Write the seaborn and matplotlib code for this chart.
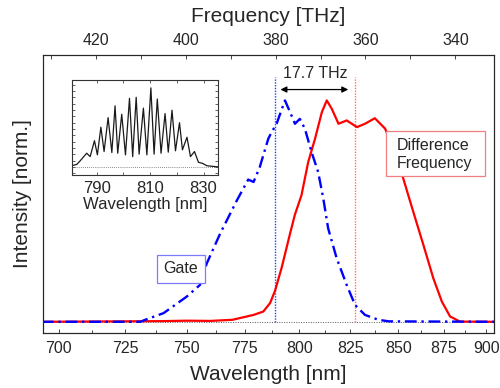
import numpy as np
import pandas as pd
import seaborn as sns
from matplotlib import pyplot as plt
from matplotlib.patches import Rectangle
from matplotlib.ticker import FixedLocator, MultipleLocator, NullFormatter

C = 299792.458  # nm*THz

# main spectra (wavelength in nm, normalised intensity)
gate_wl = [694, 731, 733.0, 740.4, 749.9, 755.5, 758.4, 764.2, 771.5, 776.5, 778.9, 781.7,
           783.3, 785.6, 787.1, 789.4, 793.3, 795.7, 798.0, 800.3, 802.7, 805.9, 809.1,
           811.6, 814.0, 818.2, 823.2, 827.4, 832.5, 839.5, 845, 905]
gate_int = [0, 0, 0.009, 0.039, 0.113, 0.166, 0.263, 0.398, 0.547, 0.640, 0.629, 0.696,
            0.749, 0.824, 0.853, 0.891, 0.996, 0.943, 0.891, 0.913, 0.869, 0.764, 0.674,
            0.555, 0.420, 0.286, 0.166, 0.076, 0.031, 0.009, 0.002, 0]

dfg_wl = [694, 740, 750, 760, 769.5, 778.9, 783.3, 786.4, 788.7, 791.8, 795.5, 797.9,
          801.1, 804.3, 807.6, 810.9, 813.3, 815.8, 819.1, 823.2, 828.4, 832.5, 837.6,
          843.0, 847.4, 852.7, 858.1, 863.7, 869.2, 874.0, 878.7, 884.4, 905]
dfg_int = [0, 0.003, 0.005, 0.004, 0.009, 0.031, 0.046, 0.084, 0.140, 0.245, 0.390, 0.480,
           0.570, 0.719, 0.824, 0.943, 0.996, 0.958, 0.891, 0.906, 0.876, 0.891, 0.916,
           0.869, 0.779, 0.644, 0.495, 0.345, 0.196, 0.091, 0.024, 0.001, 0]

# inset: gate spectral fringes
fr_wl = [780.7, 782.6, 783.8, 786.3, 787.6, 789.2, 790.3, 791.6, 792.8, 794.3, 795.7, 796.9,
         797.9, 799.4, 800.8, 802.3, 803.5, 804.8, 805.9, 807.5, 808.8, 810.3, 811.5, 812.7,
         814.1, 815.6, 816.8, 818.2, 819.5, 821.0, 822.1, 823.8, 825.1, 826.6, 828.1, 829.6,
         831.2, 834.9, 835.5]
fr_int = [0.017, 0.034, 0.077, 0.175, 0.132, 0.333, 0.154, 0.504, 0.196, 0.624, 0.183, 0.773,
          0.175, 0.667, 0.154, 0.868, 0.132, 0.881, 0.163, 0.744, 0.154, 1.0, 0.163, 0.859,
          0.175, 0.675, 0.188, 0.718, 0.205, 0.560, 0.218, 0.376, 0.132, 0.196, 0.060, 0.047,
          0.017, 0.004, 0.004]

wl_ticks = [700, 725, 750, 775, 800, 825, 850, 875, 900]
thz_ticks = [340, 360, 380, 400, 420]
gate_line = 788.7   # 380.1 THz
dfg_line = 827.5    # 362.3 THz

# main plot is linear in frequency
gate = pd.DataFrame({"f": C / np.array(gate_wl), "I": gate_int})
dfg = pd.DataFrame({"f": C / np.array(dfg_wl), "I": dfg_int})
fringes = pd.DataFrame({"wl": fr_wl, "I": fr_int})

sns.set_style("ticks")
plt.rcParams['font.family'] = ['Liberation Sans', 'DejaVu Sans']
plt.rcParams['xtick.direction'] = 'in'
plt.rcParams['ytick.direction'] = 'in'

fig = plt.figure(figsize=(5, 3.88), dpi=100)
ax = fig.add_axes([0.086, 0.142, 0.902, 0.716])

ax.axhline(0, color='0.35', lw=0.7, ls=(0, (1, 1.5)), zorder=1)
ax.vlines(C / gate_line, 0, 1.1, color='#2040ff', lw=1.0, ls=(0, (1, 1)))
ax.vlines(C / dfg_line, 0, 1.1, color='#ff7070', lw=1.0, ls=(0, (1, 1)))

sns.lineplot(data=dfg, x="f", y="I", ax=ax, color="#ff0000", lw=1.6, sort=False)
sns.lineplot(data=gate, x="f", y="I", ax=ax, color="#0000ff", lw=1.7, sort=False,
             linestyle=(0, (5, 2, 1, 2)))

ax.set_xlim(C / 694.4, C / 904.6)
ax.set_ylim(-0.05, 1.2)
ax.xaxis.set_major_locator(FixedLocator([C / w for w in wl_ticks]))
ax.xaxis.set_minor_locator(FixedLocator([C / (w + 12.5) for w in wl_ticks[:-1]]))
ax.set_xticklabels([str(w) for w in wl_ticks])
ax.yaxis.set_major_locator(MultipleLocator(0.1))
ax.yaxis.set_major_formatter(NullFormatter())
ax.tick_params(axis='both', which='both', top=False, right=True, length=3, width=0.6,
               labelsize=11.5, colors='0.15', pad=6)
ax.tick_params(axis='x', which='minor', length=2.5)
for s in ax.spines.values():
    s.set_linewidth(0.8)
    s.set_color('0.2')
ax.set_xlabel("Wavelength [nm]", fontsize=15, labelpad=6)
ax.set_ylabel("Intensity [norm.]", fontsize=15, labelpad=8)

top = ax.twiny()
top.set_xlim(ax.get_xlim())
top.xaxis.set_major_locator(FixedLocator(thz_ticks))
top.xaxis.set_minor_locator(FixedLocator([t + 10 for t in thz_ticks]))
top.tick_params(axis='x', which='both', direction='in', length=3, width=0.6,
                labelsize=11.5, colors='0.15', pad=5)
top.set_xlabel("Frequency [THz]", fontsize=15, labelpad=8)
top.set_yticks([])

# annotations
ax.annotate("", xy=(C / 824.0, 1.045), xytext=(C / 791.2, 1.045),
            arrowprops=dict(arrowstyle="<|-|>", color='black', lw=0.9,
                            mutation_scale=9, shrinkA=0, shrinkB=0))
ax.text(C / 807.6, 1.118, "17.7 THz", ha='center', va='center', fontsize=11.5)
ax.text(C / 747.6, 0.238, "Gate", ha='center', va='center', fontsize=11.5,
        bbox=dict(boxstyle='square,pad=0.4', fc='white', ec='#7c7cff', lw=0.9))
ax.add_patch(Rectangle((0.760, 0.566), 0.221, 0.162, transform=ax.transAxes,
                       fc='white', ec='#f08080', lw=0.9, zorder=4))
ax.text(C / 849.0, 0.753, "Difference\nFrequency", ha='left', va='center', fontsize=11.5,
        linespacing=1.3, zorder=5)

# inset
ins = fig.add_axes([0.144, 0.549, 0.292, 0.245])
ins.axhline(0, color='0.4', lw=0.6, ls=(0, (1, 1.5)))
sns.lineplot(data=fringes, x="wl", y="I", ax=ins, color='0.1', lw=0.9)
ins.set_xlim(780.8, 835.4)
ins.set_ylim(-0.1, 1.1)
ins.xaxis.set_major_locator(FixedLocator([790, 810, 830]))
ins.xaxis.set_minor_locator(MultipleLocator(10))
ins.yaxis.set_major_locator(MultipleLocator(0.16))
ins.yaxis.set_minor_locator(MultipleLocator(0.08))
ins.yaxis.set_major_formatter(NullFormatter())
ins.tick_params(axis='both', which='both', top=True, right=True, length=2.5, width=0.5,
                labelsize=12, colors='0.15', pad=4)
for s in ins.spines.values():
    s.set_linewidth(0.8)
    s.set_color('0.2')
ins.set_xlabel("Wavelength [nm]", fontsize=12, labelpad=1)
ins.set_ylabel("")

fig.savefig("out.png", dpi=100)
